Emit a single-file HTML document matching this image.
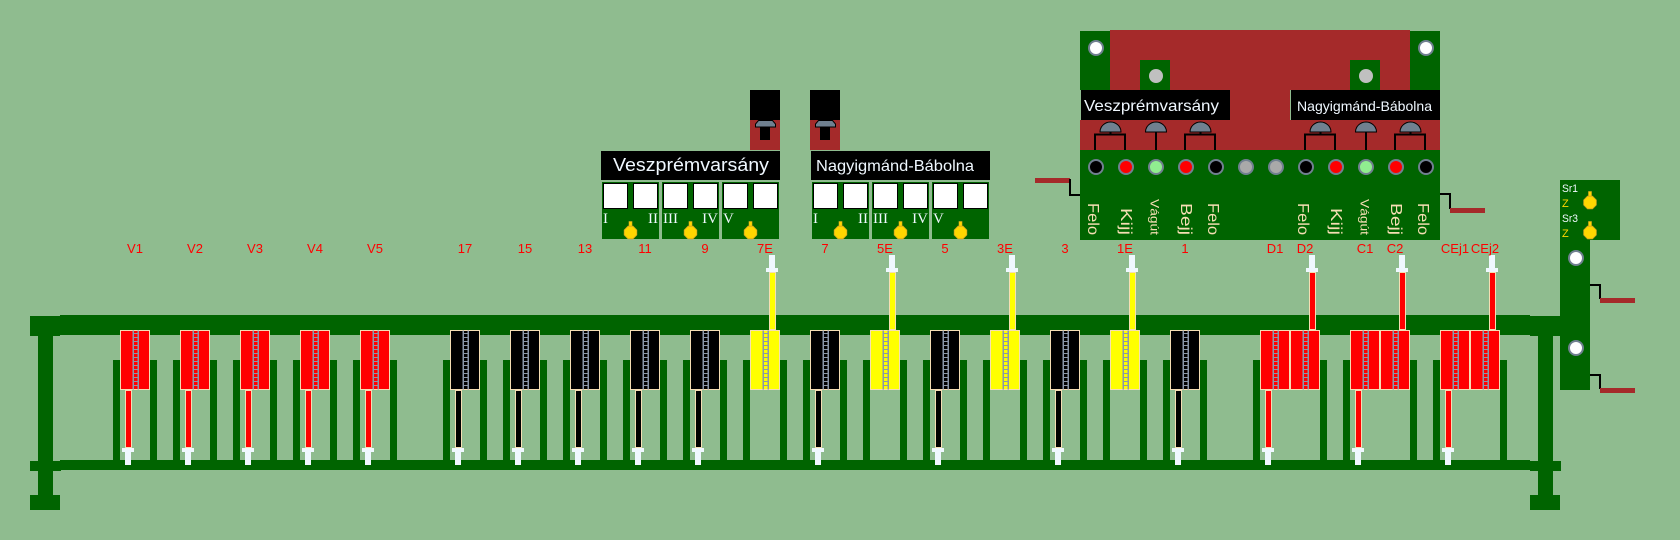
<!DOCTYPE html>
<html><head><meta charset="utf-8">
<style>
html,body{margin:0;padding:0;background:#8FBC8F;width:1680px;height:540px;overflow:hidden}
svg{display:block}
</style></head>
<body>
<svg xmlns="http://www.w3.org/2000/svg" width="1680" height="540" viewBox="0 0 1680 540">
<defs>
<g id="chain">
<rect x="12.5" y="330.5" width="1.5" height="59" fill="#8A98AA"/>
<rect x="17.5" y="330.5" width="1.5" height="59" fill="#8A98AA"/>
<path d="M14,333.5h3.5M14,337.5h3.5M14,341.5h3.5M14,345.5h3.5M14,349.5h3.5M14,353.5h3.5M14,357.5h3.5M14,361.5h3.5M14,365.5h3.5M14,369.5h3.5M14,373.5h3.5M14,377.5h3.5M14,381.5h3.5M14,385.5h3.5" stroke="#8A98AA" stroke-width="1" fill="none"/>
</g>
<g id="blk"><rect x="0.5" y="330.5" width="29" height="59" stroke="#F5DEB3" stroke-width="1"/><use href="#chain"/></g>
<g id="dn"><rect x="5.5" y="390.5" width="6" height="57" stroke="#F5DEB3" stroke-width="1"/><rect x="2" y="448" width="12" height="4" fill="#F0F8FF"/><rect x="5" y="452" width="6" height="13" fill="#F0F8FF"/></g>
<g id="up"><rect x="19.5" y="272.5" width="6" height="57" stroke="#F5DEB3" stroke-width="1"/><rect x="16" y="268" width="12" height="4" fill="#F0F8FF"/><rect x="19" y="255" width="6" height="13" fill="#F0F8FF"/></g>
<g id="lamp"><rect x="-1.5" y="-11" width="3" height="5" fill="#FFD700" stroke="#DAA520" stroke-width="0.6"/><polygon points="2.5,-6.3 6.3,-2.5 6.3,2.5 2.5,6.3 -2.5,6.3 -6.3,2.5 -6.3,-2.5 -2.5,-6.3" fill="#FFD700" stroke="#DAA520" stroke-width="0.8"/></g>
<g id="sq"><rect x="1.5" y="183.5" width="24" height="25" fill="#fff" stroke="#000" stroke-width="1"/><rect x="31.5" y="183.5" width="24" height="25" fill="#fff" stroke="#000" stroke-width="1"/></g>
</defs>

<rect width="1680" height="540" fill="#8FBC8F"/>

<!-- rails -->
<g fill="#006400">
<rect x="60" y="315" width="1470" height="20"/>
<rect x="60" y="460" width="1470" height="10"/>
<rect x="30" y="316" width="30" height="20"/>
<rect x="38" y="336" width="15" height="159"/>
<rect x="30" y="461" width="31" height="10"/>
<rect x="30" y="495" width="30" height="15"/>
<rect x="1530" y="316" width="30" height="20"/>
<rect x="1538" y="336" width="15" height="159"/>
<rect x="1530" y="461" width="31" height="10"/>
<rect x="1530" y="495" width="30" height="15"/>
<!-- bars -->
<rect x="113" y="360" width="7" height="100"/><rect x="150" y="360" width="7" height="100"/>
<rect x="173" y="360" width="7" height="100"/><rect x="210" y="360" width="7" height="100"/>
<rect x="233" y="360" width="7" height="100"/><rect x="270" y="360" width="7" height="100"/>
<rect x="293" y="360" width="7" height="100"/><rect x="330" y="360" width="7" height="100"/>
<rect x="353" y="360" width="7" height="100"/><rect x="390" y="360" width="7" height="100"/>
<rect x="443" y="360" width="7" height="100"/><rect x="480" y="360" width="7" height="100"/>
<rect x="503" y="360" width="7" height="100"/><rect x="540" y="360" width="7" height="100"/>
<rect x="563" y="360" width="7" height="100"/><rect x="600" y="360" width="7" height="100"/>
<rect x="623" y="360" width="7" height="100"/><rect x="660" y="360" width="7" height="100"/>
<rect x="683" y="360" width="7" height="100"/><rect x="720" y="360" width="7" height="100"/>
<rect x="743" y="360" width="7" height="100"/><rect x="780" y="360" width="7" height="100"/>
<rect x="803" y="360" width="7" height="100"/><rect x="840" y="360" width="7" height="100"/>
<rect x="863" y="360" width="7" height="100"/><rect x="900" y="360" width="7" height="100"/>
<rect x="923" y="360" width="7" height="100"/><rect x="960" y="360" width="7" height="100"/>
<rect x="983" y="360" width="7" height="100"/><rect x="1020" y="360" width="7" height="100"/>
<rect x="1043" y="360" width="7" height="100"/><rect x="1080" y="360" width="7" height="100"/>
<rect x="1103" y="360" width="7" height="100"/><rect x="1140" y="360" width="7" height="100"/>
<rect x="1163" y="360" width="7" height="100"/><rect x="1200" y="360" width="7" height="100"/>
<rect x="1253" y="360" width="7" height="100"/><rect x="1320" y="360" width="7" height="100"/>
<rect x="1343" y="360" width="7" height="100"/><rect x="1410" y="360" width="7" height="100"/>
<rect x="1433" y="360" width="7" height="100"/><rect x="1500" y="360" width="7" height="100"/>
</g>

<!-- cells -->
<use href="#blk" x="120" fill="#FF0000"/><use href="#dn" x="120" fill="#FF0000"/>
<use href="#blk" x="180" fill="#FF0000"/><use href="#dn" x="180" fill="#FF0000"/>
<use href="#blk" x="240" fill="#FF0000"/><use href="#dn" x="240" fill="#FF0000"/>
<use href="#blk" x="300" fill="#FF0000"/><use href="#dn" x="300" fill="#FF0000"/>
<use href="#blk" x="360" fill="#FF0000"/><use href="#dn" x="360" fill="#FF0000"/>

<use href="#blk" x="450" fill="#000"/><use href="#dn" x="450" fill="#000"/>
<use href="#blk" x="510" fill="#000"/><use href="#dn" x="510" fill="#000"/>
<use href="#blk" x="570" fill="#000"/><use href="#dn" x="570" fill="#000"/>
<use href="#blk" x="630" fill="#000"/><use href="#dn" x="630" fill="#000"/>
<use href="#blk" x="690" fill="#000"/><use href="#dn" x="690" fill="#000"/>
<use href="#blk" x="750" fill="#FFFF00"/><use href="#up" x="750" fill="#FFFF00"/>
<use href="#blk" x="810" fill="#000"/><use href="#dn" x="810" fill="#000"/>
<use href="#blk" x="870" fill="#FFFF00"/><use href="#up" x="870" fill="#FFFF00"/>
<use href="#blk" x="930" fill="#000"/><use href="#dn" x="930" fill="#000"/>
<use href="#blk" x="990" fill="#FFFF00"/><use href="#up" x="990" fill="#FFFF00"/>
<use href="#blk" x="1050" fill="#000"/><use href="#dn" x="1050" fill="#000"/>
<use href="#blk" x="1110" fill="#FFFF00"/><use href="#up" x="1110" fill="#FFFF00"/>
<use href="#blk" x="1170" fill="#000"/><use href="#dn" x="1170" fill="#000"/>

<use href="#blk" x="1260" fill="#FF0000"/><use href="#dn" x="1260" fill="#FF0000"/>
<use href="#blk" x="1290" fill="#FF0000"/><use href="#up" x="1290" fill="#FF0000"/>
<use href="#blk" x="1350" fill="#FF0000"/><use href="#dn" x="1350" fill="#FF0000"/>
<use href="#blk" x="1380" fill="#FF0000"/><use href="#up" x="1380" fill="#FF0000"/>
<use href="#blk" x="1440" fill="#FF0000"/><use href="#dn" x="1440" fill="#FF0000"/>
<use href="#blk" x="1470" fill="#FF0000"/><use href="#up" x="1470" fill="#FF0000"/>

<!-- red labels -->
<g font-family="'Liberation Sans', sans-serif" font-size="13" fill="#FF0000" text-anchor="middle">
<text x="135" y="253">V1</text><text x="195" y="253">V2</text><text x="255" y="253">V3</text><text x="315" y="253">V4</text><text x="375" y="253">V5</text>
<text x="465" y="253">17</text><text x="525" y="253">15</text><text x="585" y="253">13</text><text x="645" y="253">11</text><text x="705" y="253">9</text>
<text x="765" y="253">7E</text><text x="825" y="253">7</text><text x="885" y="253">5E</text><text x="945" y="253">5</text><text x="1005" y="253">3E</text>
<text x="1065" y="253">3</text><text x="1125" y="253">1E</text><text x="1185" y="253">1</text>
<text x="1275" y="253">D1</text><text x="1305" y="253">D2</text><text x="1365" y="253">C1</text><text x="1395" y="253">C2</text>
<text x="1455" y="253">CEj1</text><text x="1485" y="253">CEj2</text>
</g>

<!-- small signal boxes -->
<rect x="750" y="90" width="30" height="30" fill="#000"/><rect x="750" y="120" width="30" height="30" fill="#A52A2A"/>
<polygon points="758.5,120.5 772.5,120.5 775.5,124 775.5,127 755.5,127 755.5,124" fill="#708090" stroke="#000" stroke-width="1"/>
<rect x="760" y="127.5" width="10" height="12.5" fill="#000"/>
<rect x="810" y="90" width="30" height="30" fill="#000"/><rect x="810" y="120" width="30" height="30" fill="#A52A2A"/>
<polygon points="818.5,120.5 832.5,120.5 835.5,124 835.5,127 815.5,127 815.5,124" fill="#708090" stroke="#000" stroke-width="1"/>
<rect x="820" y="127.5" width="10" height="12.5" fill="#000"/>

<!-- panel 2 -->
<rect x="601" y="151" width="179" height="29" fill="#000"/>
<text x="613" y="171" font-family="'Liberation Sans', sans-serif" font-size="18" fill="#F0F8FF" textLength="156" lengthAdjust="spacingAndGlyphs">Veszprémvarsány</text>
<rect x="811" y="151" width="179" height="29" fill="#000"/>
<text x="816" y="171" font-family="'Liberation Sans', sans-serif" font-size="16" fill="#F0F8FF" textLength="158" lengthAdjust="spacingAndGlyphs">Nagyigmánd-Bábolna</text>

<g fill="#006400">
<rect x="602" y="182" width="57" height="57"/><rect x="662" y="182" width="57" height="57"/><rect x="722" y="182" width="57" height="57"/>
<rect x="812" y="182" width="57" height="57"/><rect x="872" y="182" width="57" height="57"/><rect x="932" y="182" width="57" height="57"/>
</g>
<use href="#sq" x="602"/><use href="#sq" x="662"/><use href="#sq" x="722"/>
<use href="#sq" x="812"/><use href="#sq" x="872"/><use href="#sq" x="932"/>
<g font-family="'Liberation Serif', serif" font-size="15" fill="#F0F8FF">
<text x="603" y="223">I</text><text x="658" y="223" text-anchor="end">II</text>
<text x="663" y="223">III</text><text x="718" y="223" text-anchor="end">IV</text>
<text x="723" y="223">V</text>
<text x="813" y="223">I</text><text x="868" y="223" text-anchor="end">II</text>
<text x="873" y="223">III</text><text x="928" y="223" text-anchor="end">IV</text>
<text x="933" y="223">V</text>
</g>
<use href="#lamp" x="630.5" y="232.5"/><use href="#lamp" x="690.5" y="232.5"/><use href="#lamp" x="750.5" y="232.5"/>
<use href="#lamp" x="840.5" y="232.5"/><use href="#lamp" x="900.5" y="232.5"/><use href="#lamp" x="960.5" y="232.5"/>

<!-- main panel -->
<rect x="1110" y="30" width="300" height="60" fill="#A52A2A"/>
<rect x="1080" y="90" width="360" height="60" fill="#A52A2A"/>
<rect x="1080" y="31" width="30" height="59" fill="#006400"/>
<rect x="1410" y="31" width="30" height="59" fill="#006400"/>
<rect x="1140" y="60" width="30" height="30" fill="#006400"/>
<rect x="1350" y="60" width="30" height="30" fill="#006400"/>
<circle cx="1096" cy="48" r="7" fill="#fff" stroke="#708090" stroke-width="2"/>
<circle cx="1426" cy="48" r="7" fill="#fff" stroke="#708090" stroke-width="2"/>
<circle cx="1156" cy="76" r="7" fill="#C0C0C0"/>
<circle cx="1366" cy="76" r="7" fill="#C0C0C0"/>
<rect x="1080" y="90" width="150" height="30" fill="#000"/>
<rect x="1080" y="90" width="1" height="30" fill="#8FBC8F"/>
<rect x="1290" y="90" width="150" height="30" fill="#000"/>
<rect x="1290" y="90" width="1" height="30" fill="#8FBC8F"/>
<text x="1084" y="111" font-family="'Liberation Sans', sans-serif" font-size="16" fill="#F0F8FF" textLength="135" lengthAdjust="spacingAndGlyphs">Veszprémvarsány</text>
<text x="1297" y="111" font-family="'Liberation Sans', sans-serif" font-size="14" fill="#F0F8FF" textLength="135" lengthAdjust="spacingAndGlyphs">Nagyigmánd-Bábolna</text>

<!-- domes -->
<g fill="#708090" stroke="#000" stroke-width="1">
<path d="M1100,132 A10.5,10 0 0 1 1121,132 Z"/>
<path d="M1145.5,132 A10.5,10 0 0 1 1166.5,132 Z"/>
<path d="M1190,132 A10.5,10 0 0 1 1211,132 Z"/>
<path d="M1310,132 A10.5,10 0 0 1 1331,132 Z"/>
<path d="M1355.5,132 A10.5,10 0 0 1 1376.5,132 Z"/>
<path d="M1400,132 A10.5,10 0 0 1 1421,132 Z"/>
</g>
<g fill="none" stroke="#000" stroke-width="2">
<path d="M1110.5,132V134.5M1095,150V134.5H1125V150"/>
<path d="M1156,132V150"/>
<path d="M1200.5,132V134.5M1185,150V134.5H1215V150"/>
<path d="M1320.5,132V134.5M1305,150V134.5H1335V150"/>
<path d="M1366,132V150"/>
<path d="M1410.5,132V134.5M1395,150V134.5H1425V150"/>
</g>

<rect x="1080" y="150" width="360" height="90" fill="#006400"/>
<g stroke="#708090" stroke-width="2">
<circle cx="1096" cy="167" r="7" fill="#000"/>
<circle cx="1126" cy="167" r="7" fill="#FF0000"/>
<circle cx="1156" cy="167" r="7" fill="#90EE90"/>
<circle cx="1186" cy="167" r="7" fill="#FF0000"/>
<circle cx="1216" cy="167" r="7" fill="#000"/>
<circle cx="1246" cy="167" r="7" fill="#A9A9A9"/>
<circle cx="1276" cy="167" r="7" fill="#A9A9A9"/>
<circle cx="1306" cy="167" r="7" fill="#000"/>
<circle cx="1336" cy="167" r="7" fill="#FF0000"/>
<circle cx="1366" cy="167" r="7" fill="#90EE90"/>
<circle cx="1396" cy="167" r="7" fill="#FF0000"/>
<circle cx="1426" cy="167" r="7" fill="#000"/>
</g>
<g font-family="'Liberation Sans', sans-serif" font-size="16" fill="#F5DEB3" text-anchor="end">
<text transform="translate(1088,235) rotate(90)" textLength="32" lengthAdjust="spacingAndGlyphs">Felo</text>
<text transform="translate(1121,235) rotate(90)" textLength="27" lengthAdjust="spacingAndGlyphs">Kijj</text>
<text transform="translate(1150.5,235) rotate(90)" font-size="12" textLength="36" lengthAdjust="spacingAndGlyphs">Vágút</text>
<text transform="translate(1181,235) rotate(90)" textLength="32" lengthAdjust="spacingAndGlyphs">Bejj</text>
<text transform="translate(1208,235) rotate(90)" textLength="32" lengthAdjust="spacingAndGlyphs">Felo</text>
<text transform="translate(1298,235) rotate(90)" textLength="32" lengthAdjust="spacingAndGlyphs">Felo</text>
<text transform="translate(1331,235) rotate(90)" textLength="27" lengthAdjust="spacingAndGlyphs">Kijj</text>
<text transform="translate(1360.5,235) rotate(90)" font-size="12" textLength="36" lengthAdjust="spacingAndGlyphs">Vágút</text>
<text transform="translate(1391,235) rotate(90)" textLength="32" lengthAdjust="spacingAndGlyphs">Bejj</text>
<text transform="translate(1418,235) rotate(90)" textLength="32" lengthAdjust="spacingAndGlyphs">Felo</text>
</g>

<!-- connectors -->
<rect x="1035" y="178" width="35" height="5" fill="#A52A2A"/>
<path d="M1070,179V195H1080" fill="none" stroke="#000" stroke-width="2"/>
<path d="M1440,194H1450V209" fill="none" stroke="#000" stroke-width="2"/>
<rect x="1450" y="208" width="35" height="5" fill="#A52A2A"/>

<!-- Sr panel -->
<rect x="1560" y="180" width="60" height="60" fill="#006400"/>
<rect x="1560" y="240" width="30" height="150" fill="#006400"/>
<g font-family="'Liberation Sans', sans-serif" font-size="11">
<text x="1562" y="192" fill="#F0F8FF" textLength="16" lengthAdjust="spacingAndGlyphs">Sr1</text>
<text x="1562" y="207" fill="#FFD700">Z</text>
<text x="1562" y="222" fill="#F0F8FF" textLength="16" lengthAdjust="spacingAndGlyphs">Sr3</text>
<text x="1562" y="237" fill="#FFD700">Z</text>
</g>
<use href="#lamp" x="1590" y="202.5"/>
<use href="#lamp" x="1590" y="232.5"/>
<circle cx="1576" cy="258" r="7" fill="#fff" stroke="#708090" stroke-width="2"/>
<circle cx="1576" cy="348" r="7" fill="#fff" stroke="#708090" stroke-width="2"/>
<path d="M1590,285H1600V299" fill="none" stroke="#000" stroke-width="2"/>
<rect x="1600" y="298" width="35" height="5" fill="#A52A2A"/>
<path d="M1590,375H1600V389" fill="none" stroke="#000" stroke-width="2"/>
<rect x="1600" y="388" width="35" height="5" fill="#A52A2A"/>
</svg>
</body></html>
